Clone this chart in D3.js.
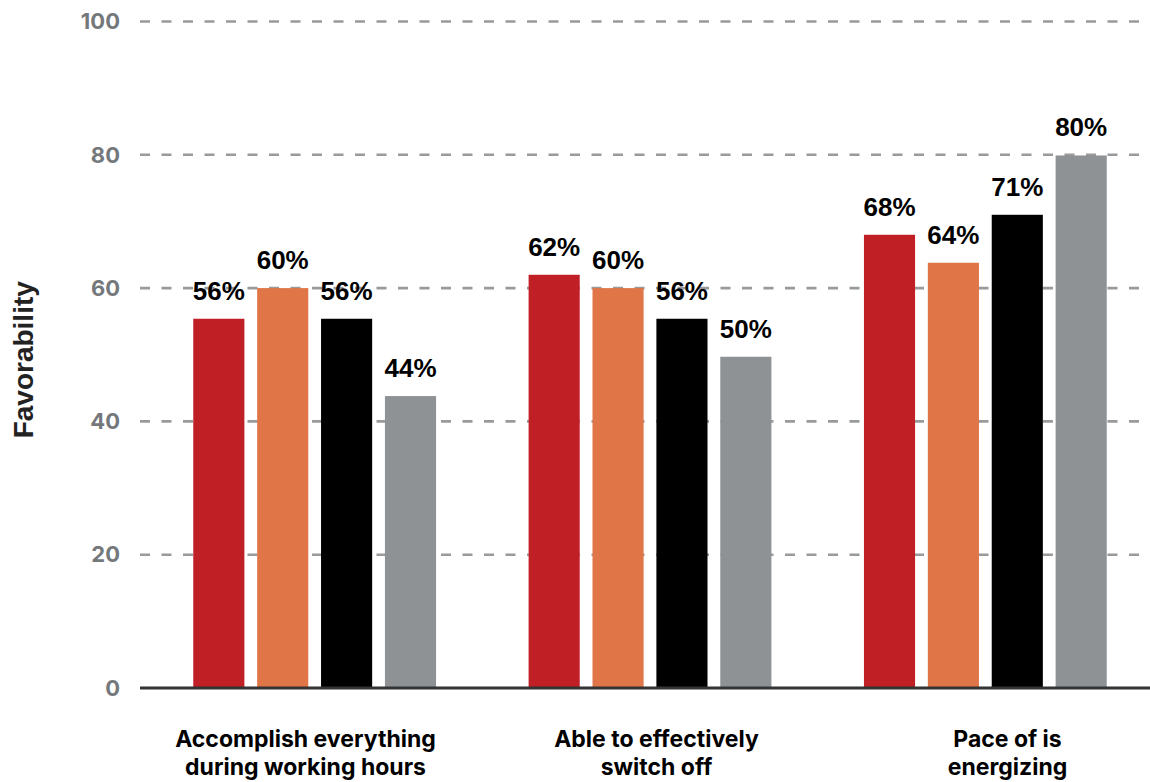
<!DOCTYPE html>
<html>
<head>
<meta charset="utf-8">
<script src="https://cdn.jsdelivr.net/npm/d3@7"></script>
<style>
  html, body { margin: 0; padding: 0; background: #fff; }
  svg { display: block; }
</style>
</head>
<body>
<script>
// data
const categories = [
  ["Accomplish everything", "during working hours"],
  ["Able to effectively", "switch off"],
  ["Pace of is", "energizing"]
];
const seriesKeys = ["s1", "s2", "s3", "s4"];
const seriesColors = ["#c01f26", "#e07547", "#000000", "#8e9294"];
const values = [
  [55.4, 60.0, 55.4, 43.8],
  [62.0, 60.0, 55.4, 49.7],
  [68.0, 63.8, 71.0, 79.9]
];
const valueLabels = [
  ["56%", "60%", "56%", "44%"],
  ["62%", "60%", "56%", "50%"],
  ["68%", "64%", "71%", "80%"]
];
const yTicks = [0, 20, 40, 60, 80, 100];
const yTitle = "Favorability";

const width = 1150, height = 782;

const svg = d3.select("body").append("svg")
    .attr("width", width)
    .attr("height", height)
    .attr("viewBox", [0, 0, width, height]);

const y = d3.scaleLinear().domain([0, 100]).range([688, 21.5]);

const x0 = d3.scaleBand()
    .domain(d3.range(categories.length))
    .range([149, 1151])
    .paddingInner(0.276)
    .paddingOuter(0.132);

const x1 = d3.scaleBand()
    .domain(seriesKeys)
    .range([0, x0.bandwidth()])
    .paddingInner(0.2);

// category labels sit a bit off the group centres in the original
const xLab = d3.scaleBand()
    .domain(d3.range(categories.length))
    .range([130, 1183]);

// grid
svg.append("g")
  .selectAll("line")
  .data(yTicks.filter(d => d > 0))
  .join("line")
    .attr("x1", 140)
    .attr("x2", width)
    .attr("y1", d => y(d))
    .attr("y2", d => y(d))
    .attr("stroke", "#999a9c")
    .attr("stroke-width", 2.6)
    .attr("stroke-dasharray", "10,11.5");

// y tick labels
svg.append("g")
    .attr("font-family", "Inter, sans-serif")
    .attr("font-weight", 700)
    .attr("font-size", 22)
    .attr("fill", "#75787b")
    .attr("text-anchor", "end")
  .selectAll("text")
  .data(yTicks)
  .join("text")
    .attr("x", 120)
    .attr("y", d => y(d))
    .attr("dy", "0.35em")
    .text(d => d);

// y title
svg.append("text")
    .attr("transform", `translate(33,${(y(0) + y(100)) / 2 + 5}) rotate(-90)`)
    .attr("text-anchor", "middle")
    .attr("font-family", "Liberation Sans, Arial, sans-serif")
    .attr("font-weight", 700)
    .attr("font-size", 28)
    .attr("fill", "#222")
    .text(yTitle);

// bars
const group = svg.append("g")
  .selectAll("g")
  .data(values)
  .join("g")
    .attr("transform", (d, i) => `translate(${x0(i)},0)`);

group.selectAll("rect")
  .data(d => d.map((v, j) => ({ key: seriesKeys[j], value: v, color: seriesColors[j] })))
  .join("rect")
    .attr("x", d => x1(d.key))
    .attr("y", d => y(d.value))
    .attr("width", x1.bandwidth())
    .attr("height", d => y(0) - y(d.value))
    .attr("fill", d => d.color);

// value labels
group.selectAll("text")
  .data((d, i) => d.map((v, j) => ({ key: seriesKeys[j], value: v, label: valueLabels[i][j] })))
  .join("text")
    .attr("x", d => x1(d.key) + x1.bandwidth() / 2)
    .attr("y", d => y(d.value) - 19)
    .attr("text-anchor", "middle")
    .attr("font-family", "Liberation Sans, Arial, sans-serif")
    .attr("font-weight", 700)
    .attr("font-size", 26)
    .attr("fill", "#000")
    .text(d => d.label);

// zero axis line
svg.append("line")
    .attr("x1", 140)
    .attr("x2", width)
    .attr("y1", y(0))
    .attr("y2", y(0))
    .attr("stroke", "#333")
    .attr("stroke-width", 3);

// category labels
const cat = svg.append("g")
    .attr("font-family", "Inter, sans-serif")
    .attr("font-weight", 700)
    .attr("font-size", 23)
    .attr("fill", "#000")
    .attr("text-anchor", "middle")
  .selectAll("text")
  .data(categories)
  .join("text")
    .attr("x", (d, i) => xLab(i) + xLab.bandwidth() / 2)
    .attr("y", 747);

cat.selectAll("tspan")
  .data(d => d)
  .join("tspan")
    .attr("x", function() { return this.parentNode.getAttribute("x"); })
    .attr("dy", (d, i) => i === 0 ? 0 : 28)
    .text(d => d);
</script>
</body>
</html>
